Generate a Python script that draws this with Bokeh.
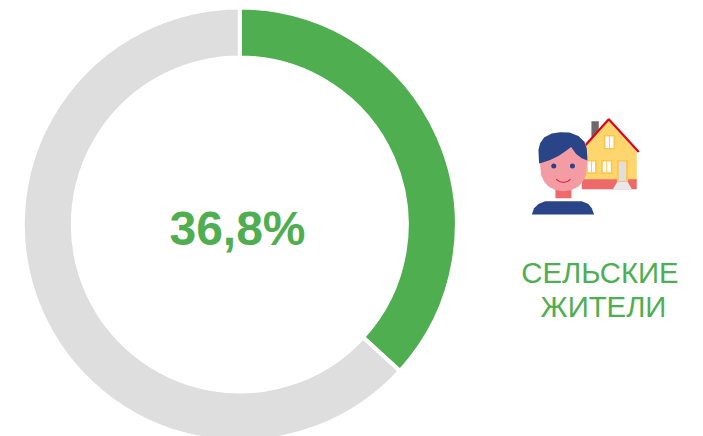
from math import pi
from bokeh.plotting import figure
from bokeh.models import Range1d, ColumnDataSource
from bokeh.core.properties import value
from bokeh.embed import file_html
from bokeh.resources import INLINE

categories = ["Сельские жители", "Остальные"]
shares = [36.8, 63.2]
colors = ["#4FAE50", "#DEDEDE"]
big_label = "36,8%"
caption_lines = ["СЕЛЬСКИЕ", "ЖИТЕЛИ"]

W, H = 703, 436
p = figure(width=W, height=H, output_backend="svg", toolbar_location=None,
           x_range=Range1d(1, W + 1), y_range=Range1d(H + 1, 1),
           min_border=0, outline_line_color=None)
p.axis.visible = False
p.grid.visible = False
p.background_fill_color = "white"

# clockwise from the top
starts, ends = [], []
acc = 0.0
total = sum(shares)
for s in shares:
    a0 = pi / 2 - 2 * pi * acc / total
    acc += s
    a1 = pi / 2 - 2 * pi * acc / total
    starts.append(a0)
    ends.append(a1)
src = ColumnDataSource(dict(cat=categories, start=starts, end=ends, color=colors))
p.annular_wedge(x=240.3, y=225, inner_radius=167, outer_radius=217, start_angle="start", end_angle="end",
                direction="clock", fill_color="color", line_color="white", line_width=4, source=src)

p.text(x=[238], y=[229], text=[big_label], text_font=value("Liberation Sans"), text_font_style="bold",
       text_font_size="48px", text_color=colors[0], text_align="center", text_baseline="middle")
p.text(x=[600.5, 604], y=[272.5, 306.5], text=caption_lines, text_font=value("Liberation Sans"),
       text_font_size="29.3px", text_color=colors[0], text_align="center", text_baseline="middle")

# icon, traced in a 3x crop whose corner is (510, 100)
def ix(v): return [510.6 + a / 3 for a in v]
def iy(v): return [100.4 + a / 3 for a in v]
def poly(xs, ys, c):
    p.patch(ix(xs), iy(ys), fill_color=c, line_color=None)
def rect(x0, y0, x1, y1, c):
    poly([x0, x1, x1, x0], [y0, y0, y1, y1], c)

rect(244, 64, 266, 112, "#6B6B6B")
poly([215, 215, 228, 296, 380, 380], [240, 160, 135, 62, 155, 240], "#FFD66E")
rect(215, 238, 380, 268, "#EE6A6A")
for x0, y0, x1, y1 in [(281, 105, 315, 149), (228, 180, 260, 222), (273, 180, 307, 222)]:
    rect(x0, y0, x1, y1, "#FDC64E")
    rect(x0 + 5, y0 + 5, x1 - 5, y1 - 5, "#FFFFFF")
    rect((x0 + x1) / 2 - 1.5, y0 + 5, (x0 + x1) / 2 + 1.5, y1 - 5, "#FDC64E")
rect(320, 180, 354, 245, "#FDC64E")
rect(326, 185, 348, 243, "#DEDEDE")
poly([322, 352, 366, 308], [245, 245, 269, 269], "#E8E8E8")
p.line(ix([226, 296, 386]), iy([136, 58, 156]), line_color="#E2001A", line_width=2.2)

rect(136, 265, 184, 295, "#EE6A6A")
poly([65, 72, 85, 105, 215, 235, 245, 252], [344, 325, 312, 304, 304, 312, 325, 344], "#2A4488")
poly([88, 95, 150, 225, 232, 228, 218, 205, 185, 160, 135, 115, 102, 93],
     [170, 125, 110, 125, 170, 225, 245, 260, 270, 274, 270, 260, 245, 225], "#F49CA3")
poly([87, 85, 90, 102, 125, 150, 178, 205, 222, 230, 232, 215, 198, 183, 165, 145, 120, 100],
     [191, 150, 130, 113, 101, 97, 98, 108, 125, 145, 182, 175, 162, 141, 155, 168, 180, 187], "#2A4488")
p.scatter(ix([131, 187]), iy([198, 198]), size=5, marker="circle", fill_color="#2A4488", line_color=None)
p.line(ix([138, 148, 160, 172, 181]), iy([238, 245, 248, 245, 238]), line_color="#E2233A", line_width=1.1)

open("out.html", "w").write(file_html(p, INLINE))
